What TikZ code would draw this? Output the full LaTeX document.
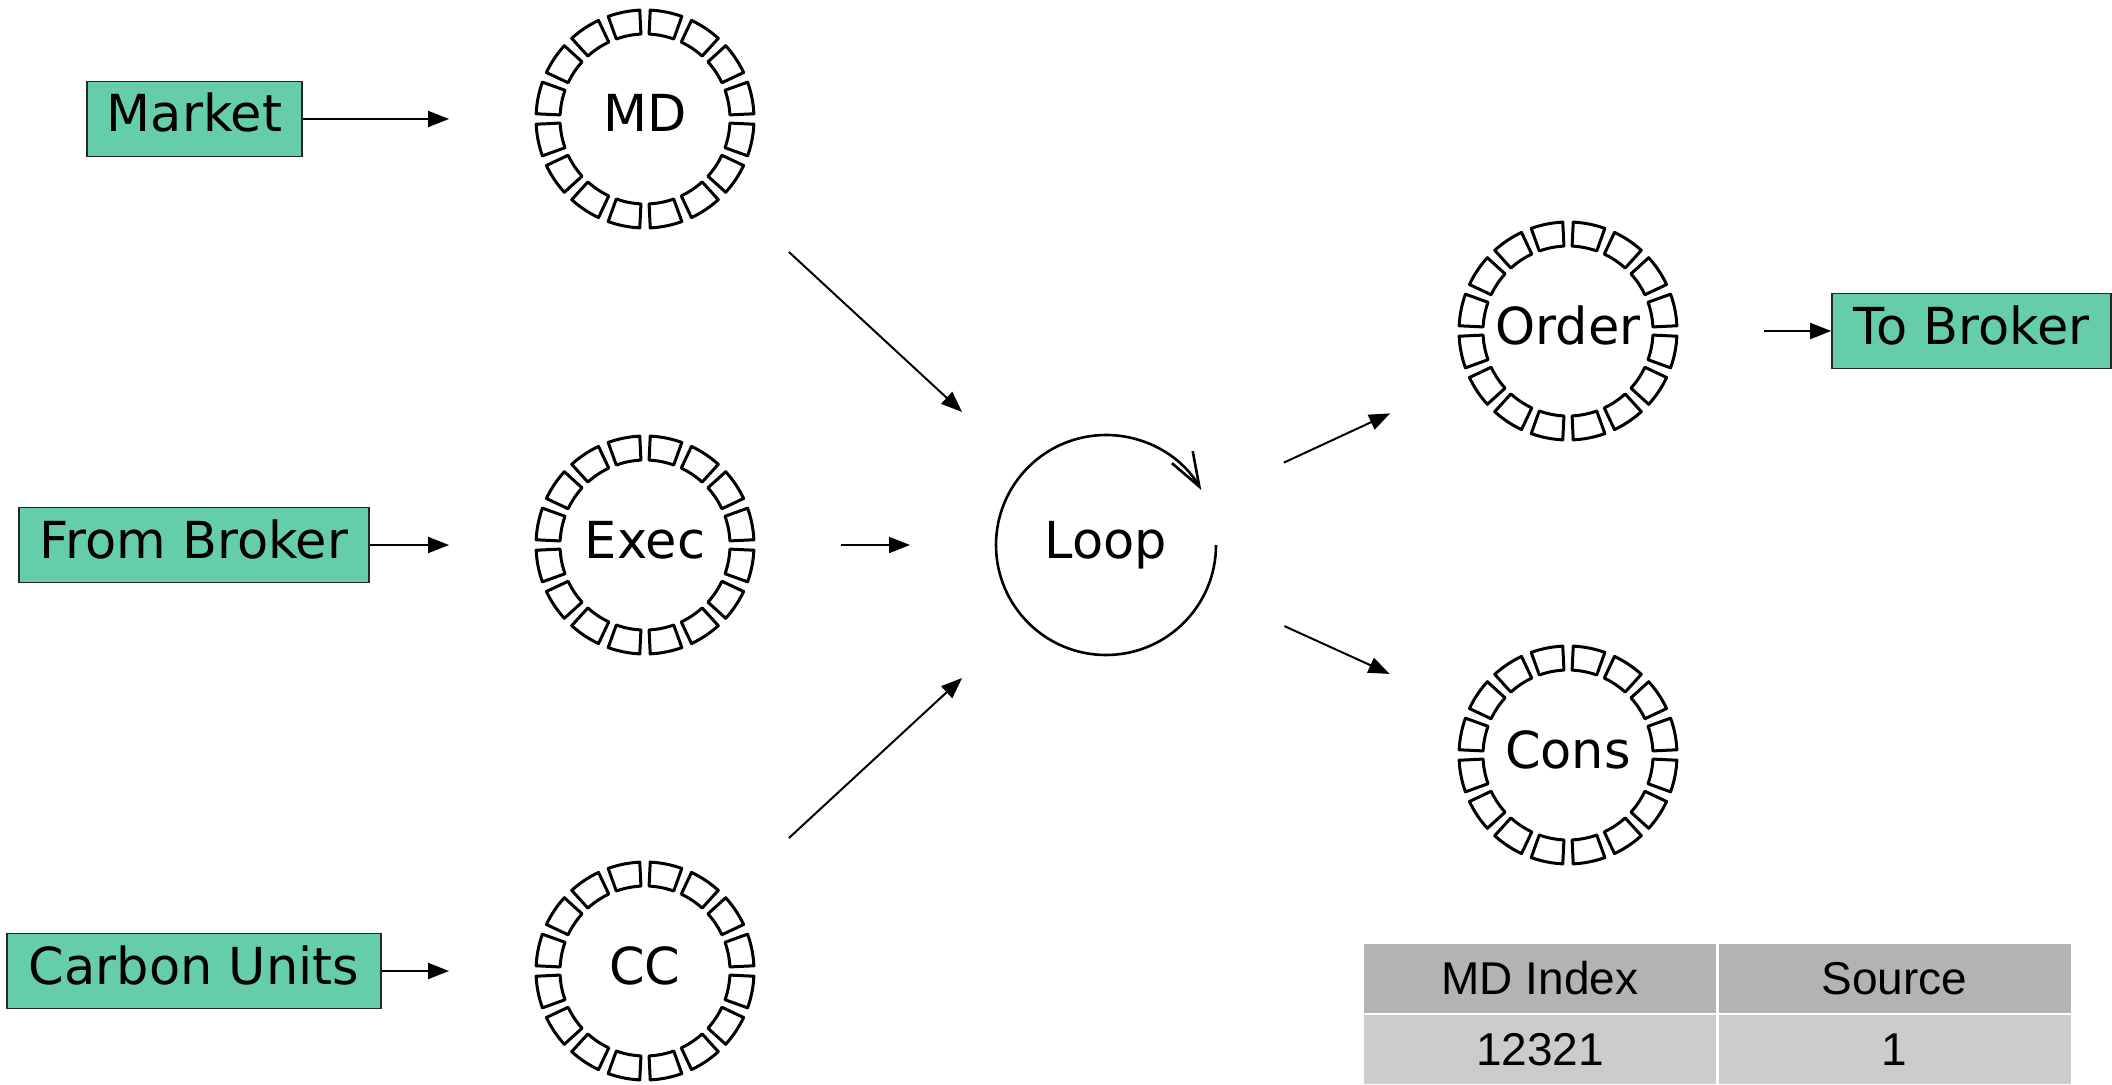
\documentclass[tikz,border=0pt]{standalone}
\usepackage{fontspec}
\setmainfont{DejaVu Sans}
\newfontfamily\tablefont{Liberation Sans}
\usetikzlibrary{arrows.meta}

\definecolor{boxgreen}{RGB}{102,205,170}
\definecolor{headgray}{RGB}{179,179,179}
\definecolor{rowgray}{RGB}{204,204,204}

% ring of 16 open segments around a node
\newcommand\drawsegring[1]{%
  \begin{scope}[shift={(#1.center)}]
    \foreach \k in {0,...,15}{
      \pgfmathsetmacro\aa{22.5*\k+2.75}
      \pgfmathsetmacro\bb{\aa+17}
      \draw[seg] (\aa:85) -- (\aa:109)
        arc[start angle=\aa, end angle=\bb, radius=109]
        -- (\bb:85)
        arc[start angle=\bb, end angle=\aa, radius=85] -- cycle;
    }
  \end{scope}}

\tikzset{
  labelfont/.style={font=\fontsize{25.5pt}{30pt}\selectfont, text height=20pt, text depth=7pt},
  srcbox/.style={labelfont, draw=black!85, line width=0.8pt, fill=boxgreen,
    inner sep=0pt, minimum height=37.5pt},
  ringnode/.style={labelfont, circle, minimum size=110pt, inner sep=0pt, outer sep=43pt},
  seg/.style={line width=1.5pt, line join=round},
  flow/.style={-{Triangle[length=10.5pt,width=8pt]}, line width=1pt},
  loopline/.style={line width=1.3pt, -{Straight Barb[length=17pt,width=12pt]}},
  cell/.style={draw=white, line width=1pt, inner sep=0pt,
    minimum width=177pt, minimum height=35.5pt,
    font=\tablefont\fontsize{23pt}{27pt}\selectfont},
  headcell/.style={cell, fill=headgray},
  bodycell/.style={cell, fill=rowgray},
}

\begin{document}
\begin{tikzpicture}[x=0.5pt,y=0.5pt]
  \useasboundingbox (0,0) rectangle (2112,1084);

  % sources
  \node[srcbox, minimum width=107.5pt] (market)  at (194.5,965) {Market};
  \node[srcbox, minimum width=175pt]   (fromb)   at (194,539)   {From Broker};
  \node[srcbox, minimum width=187pt]   (carbon)  at (194,113)   {Carbon Units};
  \node[srcbox, minimum width=139.5pt] (tobroker) at (1971.5,753) {To Broker};

  % queues
  \node[ringnode] (md)    at (645,965)  {MD};
  \node[ringnode] (exec)  at (645,539)  {Exec};
  \node[ringnode] (cc)    at (645,113)  {CC};
  \node[ringnode] (order) at (1568,753) {Order};
  \node[ringnode] (cons)  at (1568,329) {Cons};
  \drawsegring{md}
  \drawsegring{exec}
  \drawsegring{cc}
  \drawsegring{order}
  \drawsegring{cons}

  % event loop
  \node[ringnode] (loop) at (1106,539) {Loop};
  \draw[loopline] (loop.center) ++(0:110) arc[start angle=0, end angle=-330, radius=110];

  % connectors
  \draw[flow] (market) -- (md);
  \draw[flow] (fromb) -- (exec);
  \draw[flow] (carbon) -- (cc);
  \draw[flow] (md) -- (loop);
  \draw[flow] (exec) -- (loop);
  \draw[flow] (cc) -- (loop);
  \draw[flow] (loop) -- (order);
  \draw[flow] (loop) -- (cons);
  \draw[flow] (order) -- (tobroker);

  % index table
  \node[headcell] (h1) at (1540,105.5) {MD Index};
  \node[headcell] (h2) at (1894.5,105.5) {Source};
  \node[bodycell] (c1) at (1540,34.5)  {12321};
  \node[bodycell] (c2) at (1894.5,34.5)  {1};
\end{tikzpicture}
\end{document}
